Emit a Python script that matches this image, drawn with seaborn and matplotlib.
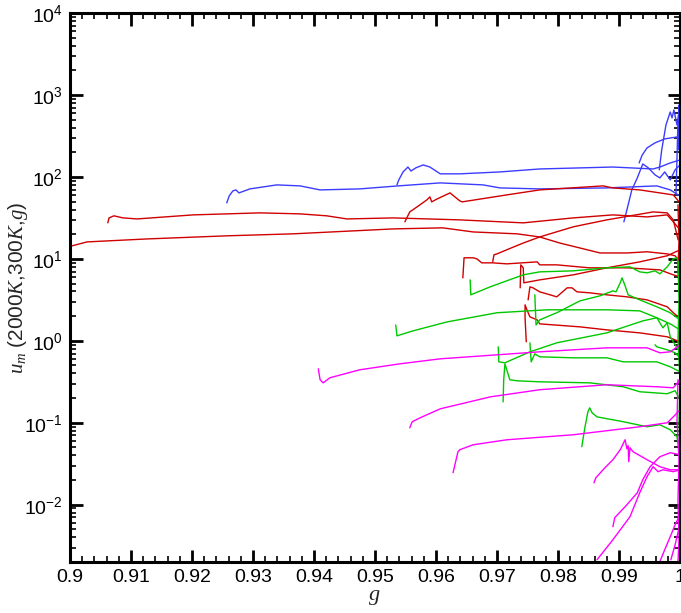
import numpy as np
import pandas as pd
import matplotlib
matplotlib.use('Agg')
import matplotlib.pyplot as plt
import matplotlib.ticker as mticker
import seaborn as sns

BLUE = '#3c3cff'
RED = '#d00000'
GREEN = '#00c800'
MAGENTA = '#ff00ff'

Y_TICKS = [1e-2, 1e-1, 1e0, 1e1, 1e2, 1e3, 1e4]

# blue curves
B1_G = [0.9257, 0.9261, 0.9267, 0.9272, 0.9277, 0.9295, 0.9339, 0.9377, 0.9410, 0.9475, 0.9538,
        0.9607, 0.9677, 0.9705, 0.9770, 0.9880, 0.9962, 0.9984, 1.0000]
B1_U = [48.2, 58.6, 67.5, 69.4, 63.8, 71.4, 79.9, 77.7, 69.4, 71.4, 77.7,
        84.5, 79.9, 73.4, 71.4, 73.4, 77.7, 69.4, 58.6]

B2_G = [0.9536, 0.9539, 0.9546, 0.9554, 0.9559, 0.9567, 0.9579, 0.9590, 0.9607, 0.9639, 0.9705,
        0.9770, 0.9890, 0.9956, 0.9967, 0.9984, 1.0000]
B2_U = [80, 91.9, 115, 132, 118, 129, 140, 132, 109, 109, 115,
        125, 132, 125, 132, 148, 161]

B3_G = [0.9933, 0.9938, 0.9946, 0.9959, 0.9975, 0.9995, 1.0000]
B3_U = [148, 185, 226, 260, 291, 307, 325]

B4_G = [0.9908, 0.9915, 0.9921, 0.9930, 0.9939, 0.9948, 0.9959, 0.9967, 0.9975, 0.9984, 0.9992, 1.0000]
B4_U = [28.3, 45.6, 69.4, 97.2, 144, 129, 106, 97.2, 115, 91.9, 122, 140]

B5_G = [0.9966, 0.9970, 0.9977, 0.9984, 0.9987, 0.9990, 0.9995, 1.0000]
B5_U = [122, 213, 431, 620, 524, 656, 431, 755]

B6_G = [0.99934, 0.9995, 0.99967, 0.99984, 0.99984, 1.0000, 1.0000]
B6_U = [60.3, 161, 496, 213, 755, 283, 69.4]

# red curves
R1_G = [0.9003, 0.9028, 0.9126, 0.9257, 0.9366, 0.9530, 0.9611, 0.9661, 0.9733, 0.9770, 0.9803,
        0.9869, 0.9913, 0.9946, 0.9979, 0.9992, 1.0000]
R1_U = [14.4, 16.1, 17.5, 19.1, 20.2, 23.2, 23.9, 21.3, 20.2, 18.5, 15.6,
        11.8, 11.8, 12.2, 11.5, 10.9, 9.19]

R2_G = [0.9062, 0.9064, 0.9072, 0.9087, 0.9110, 0.9202, 0.9311, 0.9377, 0.9421, 0.9454, 0.9530,
        0.9639, 0.9743, 0.9825, 0.9890, 0.9946, 0.9979, 0.9989, 1.0000]
R2_U = [27.5, 31.6, 33.5, 31.6, 30.7, 34.4, 36.4, 35.4, 33.5, 30.7, 31.6,
        29.9, 27.5, 31.6, 34.4, 32.5, 34.4, 28.3, 22.6]

R3_G = [0.9549, 0.9557, 0.9569, 0.9585, 0.9590, 0.9593, 0.9602, 0.9623, 0.9639, 0.9643, 0.9716,
        0.9770, 0.9874, 0.9890, 0.9934, 0.9989, 1.0000]
R3_U = [28.3, 37.4, 43.1, 52.4, 57.0, 49.6, 53.9, 63.8, 51.0, 49.6, 60.3,
        69.4, 77.7, 73.4, 69.4, 60.3, 48.2]

R4_G = [0.9693, 0.9695, 0.9700, 0.9716, 0.9743, 0.9770, 0.9825, 0.9880, 0.9956, 0.9979, 0.9989, 0.9997]
R4_U = [9.19, 11.2, 11.5, 12.9, 15.6, 18.5, 24.6, 29.9, 37.4, 36.4, 29.9, 17.0]

R5_G = [0.9644, 0.9646, 0.9661, 0.9667, 0.9675, 0.9693, 0.9716, 0.9766, 0.9770, 0.9798, 0.9852,
        0.9913, 0.9967, 0.9989, 1.0000]
R5_U = [5.86, 10.3, 10.3, 10.0, 8.94, 8.94, 8.69, 9.19, 8.45, 8.45, 7.77,
        7.77, 7.34, 6.38, 6.03]

R6_G = [0.9738, 0.9739, 0.9743, 0.9744, 0.9770, 0.9825, 0.9880, 0.9934, 0.9979, 1.0000]
R6_U = [4.43, 8.45, 7.77, 5.10, 5.54, 6.38, 7.77, 9.19, 10.9, 12.9]

R7_G = [0.9751, 0.9754, 0.9759, 0.9770, 0.9787, 0.9798, 0.9815, 0.9823, 0.9831, 0.9852, 0.9880,
        0.9913, 0.9946, 0.9979, 0.9989, 0.9997]
R7_U = [3.16, 4.56, 4.43, 3.96, 3.64, 3.44, 4.43, 4.43, 3.96, 3.85, 3.64,
        3.44, 3.16, 2.60, 2.20, 1.96]

R8_G = [0.9748, 0.9746, 0.9746, 0.9749, 0.9754, 0.9766, 0.9770, 0.9836, 0.9880, 0.9934, 0.9979, 1.0000]
R8_U = [0.972, 1.91, 2.75, 2.39, 1.96, 1.80, 1.61, 1.48, 1.36, 1.25, 1.12, 0.972]

R9_G = [0.99967, 0.99984, 0.99967, 1.0000, 0.99984]
R9_U = [45.6, 17.0, 7.34, 3.16, 0.894]

# green curves
G1_G = [0.9656, 0.9657, 0.9689, 0.9743, 0.9770, 0.9825, 0.9880, 0.9918, 0.9934, 0.9946, 0.9959,
        0.9967, 0.9979, 0.9989, 0.9995, 1.0000]
G1_U = [5.54, 3.64, 4.56, 6.38, 6.94, 7.14, 7.77, 7.99, 6.94, 6.75, 7.14,
        6.56, 7.99, 10.0, 10.3, 7.77]

G2_G = [0.9534, 0.9536, 0.9562, 0.9618, 0.9700, 0.9782, 0.9880, 0.9934, 0.9962, 0.9984, 1.0000]
G2_U = [1.56, 1.15, 1.32, 1.70, 2.20, 2.39, 2.39, 2.32, 1.91, 1.61, 1.36]

G3_G = [0.9762, 0.9764, 0.9770, 0.9798, 0.9836, 0.9869, 0.9890, 0.9895, 0.9902, 0.9905, 0.9910,
        0.9915, 0.9934, 0.9962, 0.9984, 1.0000]
G3_U = [3.64, 1.56, 1.80, 2.20, 3.07, 3.54, 4.07, 3.96, 5.10, 5.86, 4.69,
        3.64, 3.16, 2.60, 2.20, 1.80]

G4_G = [0.9702, 0.9703, 0.9713, 0.9754, 0.9798, 0.9880, 0.9939, 0.9962, 0.9972, 0.9979, 0.9984,
        0.9992, 1.0000]
G4_U = [0.845, 0.554, 0.539, 0.734, 0.945, 1.25, 1.75, 1.91, 1.44, 1.66, 1.12,
        0.894, 0.734]

G5_G = [0.9754, 0.9756, 0.9762, 0.9770, 0.9825, 0.9880, 0.9907, 0.9962, 0.9984, 1.0000]
G5_U = [0.945, 0.554, 0.694, 0.638, 0.620, 0.620, 0.554, 0.554, 0.482, 0.419]

G6_G = [0.9710, 0.9711, 0.9713, 0.9721, 0.9733, 0.9770, 0.9852, 0.9907, 0.9934, 0.9979, 0.9992, 1.0000]
G6_U = [0.180, 0.335, 0.524, 0.335, 0.325, 0.316, 0.307, 0.275, 0.239, 0.226, 0.246, 0.191]

G7_G = [0.9839, 0.9844, 0.9849, 0.9852, 0.9856, 0.9864, 0.9907, 0.9946, 0.9967, 0.9984, 0.9995, 1.0000]
G7_U = [0.0510, 0.0869, 0.136, 0.152, 0.132, 0.118, 0.103, 0.0894, 0.0945, 0.0821, 0.0675, 0.0407]

G8_G = [0.9959, 0.9962, 0.9979, 0.9992, 1.0000]
G8_U = [0.894, 0.845, 0.777, 0.714, 0.620]

G9_G = [0.99967, 0.99984, 0.99967, 1.0000, 0.99984, 1.0000]
G9_U = [9.19, 3.16, 1.03, 0.335, 0.109, 0.0354]

# magenta curves
M1_G = [0.9407, 0.9410, 0.9415, 0.9426, 0.9475, 0.9541, 0.9607, 0.9770, 0.9880, 0.9946, 0.9967,
        0.9984, 1.0000]
M1_U = [0.456, 0.335, 0.307, 0.354, 0.443, 0.524, 0.603, 0.734, 0.821, 0.821, 0.714,
        0.734, 0.894]

M2_G = [0.9557, 0.9561, 0.9574, 0.9607, 0.9689, 0.9770, 0.9880, 0.9962, 0.9989, 1.0000]
M2_U = [0.0869, 0.103, 0.115, 0.148, 0.207, 0.253, 0.291, 0.275, 0.267, 0.335]

M3_G = [0.9628, 0.9631, 0.9636, 0.9639, 0.9661, 0.9716, 0.9825, 0.9934, 0.9979, 0.9989, 1.0000]
M3_U = [0.0246, 0.0307, 0.0443, 0.0469, 0.0539, 0.0620, 0.0714, 0.0894, 0.100, 0.118, 0.144]

M4_G = [0.9859, 0.9862, 0.9877, 0.9890, 0.9902, 0.9910, 0.9913, 0.9915, 0.9916, 0.9918, 0.9923,
        0.9946, 0.9967, 0.9984, 1.0000]
M4_U = [0.0185, 0.0213, 0.0283, 0.0354, 0.0469, 0.0620, 0.0482, 0.0524, 0.0335, 0.0496, 0.0443,
        0.0354, 0.0291, 0.0267, 0.0267]

M5_G = [0.9890, 0.9893, 0.9913, 0.9930, 0.9939, 0.9951, 0.9967, 0.9984, 1.0000]
M5_U = [0.00539, 0.00694, 0.0100, 0.0140, 0.0202, 0.0291, 0.0385, 0.0431, 0.0407]

M6_G = [0.9864, 0.9890, 0.9918, 0.9934, 0.9946, 0.9956, 0.9964, 0.9972, 0.9989, 1.0000]
M6_U = [0.00213, 0.00374, 0.00714, 0.0140, 0.0220, 0.0291, 0.0253, 0.0267, 0.0253, 0.0267]

M7_G = [0.9967, 0.9975, 0.9984, 0.9992, 1.0000]
M7_U = [0.00202, 0.00283, 0.00407, 0.00570, 0.00755]

M8_G = [0.9985, 0.9992, 0.9997, 1.0000]
M8_U = [0.00213, 0.00325, 0.00469, 0.00656]

M9_G = [0.99967, 0.99951, 0.99984, 0.99967, 0.99984, 0.99967]
M9_U = [0.335, 0.109, 0.0354, 0.0115, 0.00374, 0.00202]

CURVES = [
    ('B1', BLUE, B1_G, B1_U), ('B2', BLUE, B2_G, B2_U), ('B3', BLUE, B3_G, B3_U),
    ('B4', BLUE, B4_G, B4_U), ('B5', BLUE, B5_G, B5_U), ('B6', BLUE, B6_G, B6_U),
    ('R1', RED, R1_G, R1_U), ('R2', RED, R2_G, R2_U), ('R3', RED, R3_G, R3_U),
    ('R4', RED, R4_G, R4_U), ('R5', RED, R5_G, R5_U), ('R6', RED, R6_G, R6_U),
    ('R7', RED, R7_G, R7_U), ('R8', RED, R8_G, R8_U), ('R9', RED, R9_G, R9_U),
    ('G1', GREEN, G1_G, G1_U), ('G2', GREEN, G2_G, G2_U), ('G3', GREEN, G3_G, G3_U),
    ('G4', GREEN, G4_G, G4_U), ('G5', GREEN, G5_G, G5_U), ('G6', GREEN, G6_G, G6_U),
    ('G7', GREEN, G7_G, G7_U), ('G8', GREEN, G8_G, G8_U), ('G9', GREEN, G9_G, G9_U),
    ('M1', MAGENTA, M1_G, M1_U), ('M2', MAGENTA, M2_G, M2_U), ('M3', MAGENTA, M3_G, M3_U),
    ('M4', MAGENTA, M4_G, M4_U), ('M5', MAGENTA, M5_G, M5_U), ('M6', MAGENTA, M6_G, M6_U),
    ('M7', MAGENTA, M7_G, M7_U), ('M8', MAGENTA, M8_G, M8_U), ('M9', MAGENTA, M9_G, M9_U),
]

df = pd.concat([pd.DataFrame({'g': g, 'u': u, 'curve': name}) for name, _, g, u in CURVES],
               ignore_index=True)
palette = {name: color for name, color, _, _ in CURVES}

sns.set_style('ticks')
plt.rcParams['font.family'] = ['Liberation Sans', 'DejaVu Sans']
plt.rcParams['mathtext.fontset'] = 'custom'
plt.rcParams['mathtext.rm'] = 'Liberation Sans'
plt.rcParams['mathtext.it'] = 'Liberation Serif:italic'
plt.rcParams['mathtext.bf'] = 'Liberation Sans:bold'

fig = plt.figure(figsize=(6.81, 6.13), dpi=100)
ax = fig.add_axes([70 / 681, 51 / 613, 610 / 681, 549 / 613])
ax.set_yscale('log')

sns.lineplot(data=df, x='g', y='u', hue='curve', palette=palette, sort=False,
             estimator=None, legend=False, linewidth=1.0, ax=ax)

ax.set_xlim(0.9, 1.0)
ax.set_ylim(2e-3, 1e4)

ax.xaxis.set_major_locator(mticker.MultipleLocator(0.01))
ax.xaxis.set_minor_locator(mticker.MultipleLocator(0.002))
ax.xaxis.set_major_formatter(mticker.FuncFormatter(
    lambda v, p: f'{v:.2f}'.rstrip('0').rstrip('.')))

ax.yaxis.set_major_locator(mticker.FixedLocator(Y_TICKS))
ax.yaxis.set_minor_locator(mticker.LogLocator(base=10, subs=np.arange(2, 10), numticks=12))
ax.yaxis.set_minor_formatter(mticker.NullFormatter())
ax.yaxis.set_major_formatter(mticker.FuncFormatter(
    lambda v, p: r'$\mathregular{10^{%d}}$' % round(np.log10(v))))

ax.tick_params(which='both', direction='in', top=True, right=True, colors='black')
ax.tick_params(which='major', length=9, width=2, labelsize=14, pad=5)
ax.tick_params(which='minor', length=4.5, width=1.2)
for s in ax.spines.values():
    s.set_linewidth(2.2)
    s.set_color('black')

ax.set_xlabel('g', fontfamily='Liberation Serif', style='italic', fontsize=16, labelpad=0)
ax.set_ylabel(r'$\mathit{u_m\ (2000K{,}300K{,}g)}$', fontsize=15)
ax.yaxis.set_label_coords(-0.066, 0.5)

fig.savefig('out.png', dpi=100)
